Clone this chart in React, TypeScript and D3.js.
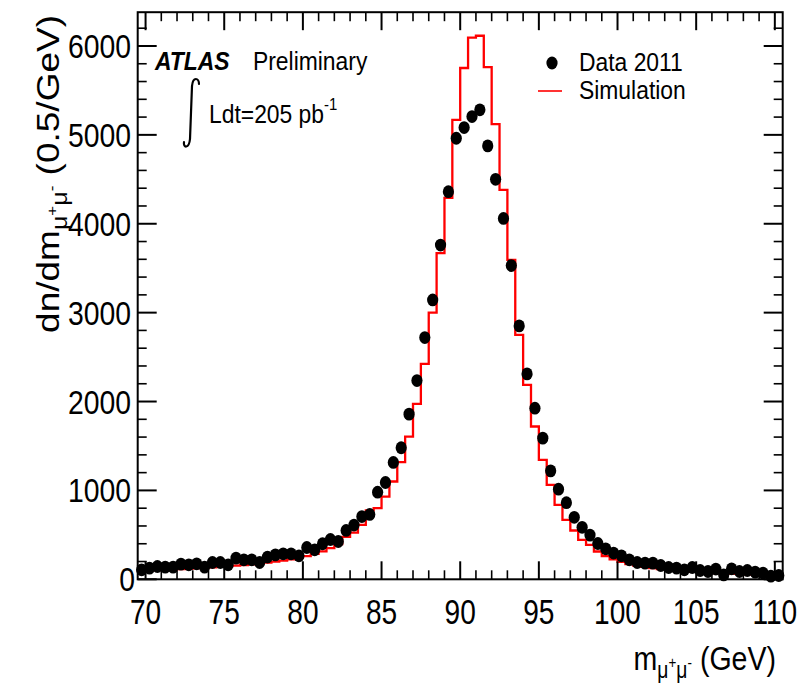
import React from "react";
import * as d3 from "d3";

// Bins: 0.5 GeV wide, from 69.5 to 110.5 GeV
const binLow = 69.5;
const binHigh = 110.5;
const binWidth = 0.5;

// Data 2011 (events per 0.5 GeV), bin centres 69.75 ... 110.25
const dataCounts = [
  107, 126, 144, 137, 137, 171, 163, 174, 137, 189, 189, 163, 238, 219, 219, 189,
  250, 275, 287, 287, 264, 358, 332, 400, 448, 425, 550, 610, 706, 730, 980, 1089,
  1315, 1480, 1858, 2236, 2720, 3143, 3760, 4361, 4962, 5082, 5206, 5282, 4876, 4500,
  4060, 3530, 2851, 2311, 1925, 1588, 1220, 1014, 862, 697, 585, 497, 403, 343, 295,
  264, 219, 189, 182, 182, 155, 133, 126, 107, 133, 99, 88, 115, 50, 118, 88, 99, 81,
  70, 35, 43,
];

// Simulation (events per 0.5 GeV), bins 69.5-70 ... 110-110.5
const simCounts = [
  95, 100, 104, 108, 112, 116, 120, 125, 130, 135, 141, 147, 154, 161, 169, 178, 188,
  199, 211, 225, 240, 260, 285, 315, 350, 395, 478, 525, 613, 775, 800, 931, 1100,
  1318, 1606, 1974, 2424, 3000, 3670, 4290, 5169, 5752, 6095, 6115, 5763, 5120, 4380,
  3593, 2750, 2187, 1719, 1344, 1063, 838, 669, 549, 444, 388, 313, 260, 225, 195, 172,
  155, 140, 127, 116, 106, 98, 91, 85, 80, 75, 71, 67, 63, 60, 57, 54, 51, 49, 47,
];

const yMajorTicks = [0, 1000, 2000, 3000, 4000, 5000, 6000];
const xMajorTicks = [70, 75, 80, 85, 90, 95, 100, 105, 110];
const yMax = 6380;

const FONT = "'Liberation Sans', Arial, Helvetica, sans-serif";

function SText(props: any) {
  const { x, y, sx = 0.88, anchor = "start", size = 26, weight, fstyle, fill = "#000", children } = props;
  return (
    <g transform={`translate(${x},${y}) scale(${sx},1)`}>
      <text
        x={0}
        y={0}
        textAnchor={anchor}
        fontSize={size}
        fontWeight={weight}
        fontStyle={fstyle}
        fill={fill}
        fontFamily={FONT}
      >
        {children}
      </text>
    </g>
  );
}

export default function App() {
  const W = 808;
  const H = 683;
  const left = 137.7;
  const right = 782.7;
  const bottom = 579.3;
  const top = 12.2;

  const x = d3.scaleLinear().domain([binLow, binHigh]).range([left, right]);
  const y = d3.scaleLinear().domain([0, yMax]).range([bottom, top]);

  const centers = dataCounts.map((_, i) => binLow + binWidth * (i + 0.5));
  const edges = simCounts.map((_, i) => binLow + binWidth * i);

  const simPts: [number, number][] = edges.map((e, i) => [e, simCounts[i]]);
  simPts.push([binHigh, simCounts[simCounts.length - 1]]);
  const simLine = d3
    .line<[number, number]>()
    .x((d) => x(d[0]))
    .y((d) => y(d[1]))
    .curve(d3.curveStepAfter)(simPts) as string;

  const yMinor = d3.range(0, yMax + 1, 200).filter((v) => v % 1000 !== 0);
  const xMinor = d3.range(70, 111, 1).filter((v) => v % 5 !== 0);

  const majorLen = 19;
  const minorLen = 9;
  const xMajorLen = 18;
  const xMinorLen = 9;

  return (
    <svg
      width={W}
      height={H}
      style={{ position: "fixed", left: 0, top: 0, background: "#fff" }}
      xmlns="http://www.w3.org/2000/svg"
    >
      <rect x={0} y={0} width={W} height={H} fill="#fff" />
      {/* histogram */}
      <path d={simLine} fill="none" stroke="#ff0000" strokeWidth={2.3} />

      {/* frame */}
      <rect x={left} y={top} width={right - left} height={bottom - top} fill="none" stroke="#000" strokeWidth={2} />

      {/* y ticks, left and right */}
      {yMajorTicks.map((v) => (
        <g key={"ym" + v}>
          <line x1={left} x2={left + majorLen} y1={y(v)} y2={y(v)} stroke="#000" strokeWidth={2} />
          <line x1={right} x2={right - majorLen} y1={y(v)} y2={y(v)} stroke="#000" strokeWidth={2} />
        </g>
      ))}
      {yMinor.map((v) => (
        <g key={"yn" + v}>
          <line x1={left} x2={left + minorLen} y1={y(v)} y2={y(v)} stroke="#000" strokeWidth={1.6} />
          <line x1={right} x2={right - minorLen} y1={y(v)} y2={y(v)} stroke="#000" strokeWidth={1.6} />
        </g>
      ))}
      {/* x ticks, bottom and top */}
      {xMajorTicks.map((v) => (
        <g key={"xm" + v}>
          <line x1={x(v)} x2={x(v)} y1={bottom} y2={bottom - xMajorLen} stroke="#000" strokeWidth={2} />
          <line x1={x(v)} x2={x(v)} y1={top} y2={top + xMajorLen} stroke="#000" strokeWidth={2} />
        </g>
      ))}
      {xMinor.map((v) => (
        <g key={"xn" + v}>
          <line x1={x(v)} x2={x(v)} y1={bottom} y2={bottom - xMinorLen} stroke="#000" strokeWidth={1.6} />
          <line x1={x(v)} x2={x(v)} y1={top} y2={top + xMinorLen} stroke="#000" strokeWidth={1.6} />
        </g>
      ))}

      {/* data points */}
      {dataCounts.map((v, i) => (
        <ellipse key={"d" + i} cx={x(centers[i])} cy={y(v)} rx={5.6} ry={6.4} fill="#000" />
      ))}

      {/* tick labels */}
      {yMajorTicks.map((v) => (
        <SText key={"yl" + v} x={v === 0 ? 135 : 131} y={y(v) + 12} anchor="end" size={33} sx={0.86}>
          {String(v)}
        </SText>
      ))}
      {xMajorTicks.map((v) => (
        <SText key={"xl" + v} x={x(v)} y={624} anchor="middle" size={36} sx={0.78}>
          {String(v)}
        </SText>
      ))}

      {/* axis titles */}
      <SText x={776} y={670} anchor="end" size={34} sx={0.84}>
        m
        <tspan dy={8} fontSize={23}>μ</tspan>
        <tspan dy={-10} fontSize={16}>+</tspan>
        <tspan dy={10} fontSize={23}>μ</tspan>
        <tspan dy={-10} fontSize={16}>-</tspan>
        <tspan dy={2} fontSize={34}> (GeV)</tspan>
      </SText>
      <g transform={`translate(59,15) rotate(-90) scale(1,0.86)`}>
        <text x={0} y={0} textAnchor="end" fontSize={37} fontFamily={FONT} fill="#000">
          dn/dm
          <tspan dy={9} fontSize={25}>μ</tspan>
          <tspan dy={-11} fontSize={17}>+</tspan>
          <tspan dy={11} fontSize={25}>μ</tspan>
          <tspan dy={-11} fontSize={17}>-</tspan>
          <tspan dy={2} fontSize={37}> (0.5/GeV)</tspan>
        </text>
      </g>

      {/* ATLAS label */}
      <SText x={155} y={70} size={26} weight="bold" fstyle="italic">ATLAS</SText>
      <SText x={253} y={70} size={26}>Preliminary</SText>
      <path
        d="M 199 84 C 199 78, 193 76, 192 86 L 190 139 C 189 149, 183 148, 184 142"
        fill="none"
        stroke="#000"
        strokeWidth={2.2}
        strokeLinecap="round"
      />
      <SText x={209} y={123} size={26}>
        Ldt=205 pb
        <tspan dy={-13} fontSize={17}>-1</tspan>
      </SText>

      {/* legend */}
      <ellipse cx={552} cy={63} rx={5.6} ry={6.4} fill="#000" />
      <SText x={579} y={71} size={26}>Data 2011</SText>
      <line x1={538} x2={562} y1={91} y2={91} stroke="#ff0000" strokeWidth={1.6} />
      <SText x={579} y={99} size={26}>Simulation</SText>
    </svg>
  );
}
